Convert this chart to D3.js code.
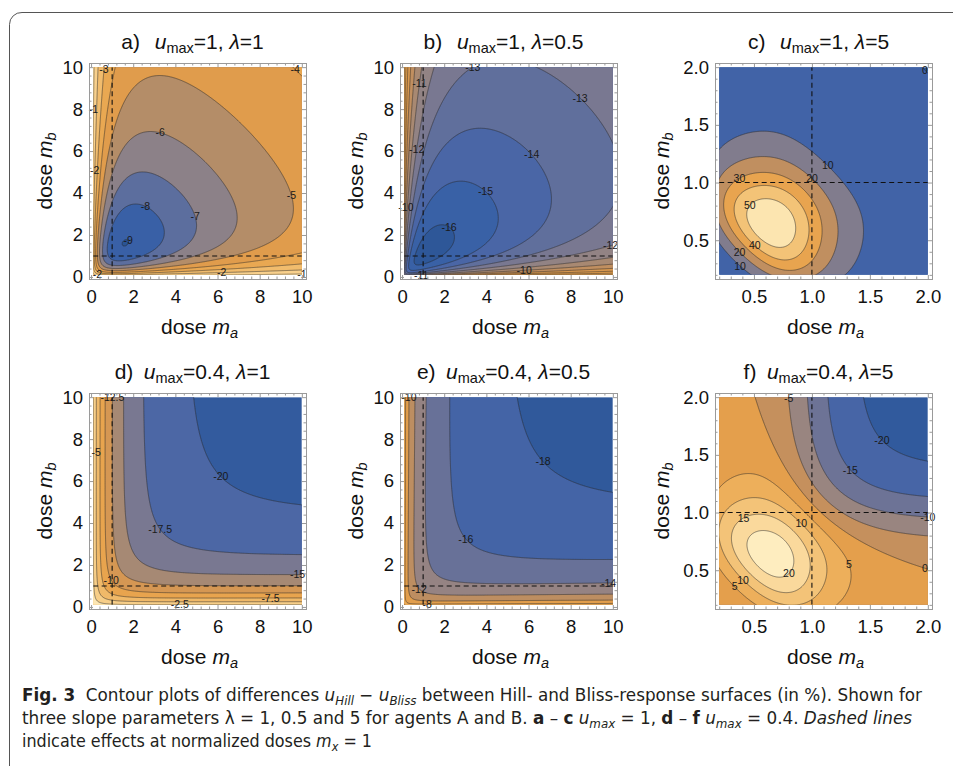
<!DOCTYPE html>
<html>
<head>
<meta charset="utf-8">
<script src="https://cdn.jsdelivr.net/npm/d3@7"></script>
<style>
  body { margin: 0; background: #fff; }
  svg text { white-space: pre; }
</style>
</head>
<body>
<svg id="chart" width="953" height="766"></svg>
<script>
// ---------------- data ----------------
const panelIds = ["a", "b", "c", "d", "e", "f"];
const uMaxValues = [1, 1, 1, 0.4, 0.4, 0.4];
const lambdaValues = [1, 0.5, 5, 1, 0.5, 5];
const uMaxLabels = ["1", "1", "1", "0.4", "0.4", "0.4"];
const lambdaLabels = ["1", "0.5", "5", "1", "0.5", "5"];
const doseRanges = [[0.1, 10], [0.1, 10], [0.2, 2], [0.1, 10], [0.1, 10], [0.2, 2]];
const contourLevels = [
  [-9, -8, -7, -6, -5, -4, -3, -2, -1],
  [-16, -15, -14, -13, -12, -11, -10, -9, -8, -7, -6],
  [0, 10, 20, 30, 40, 50],
  [-20, -17.5, -15, -12.5, -10, -7.5, -5, -2.5],
  [-18, -16, -14, -12, -10, -8, -6],
  [-20, -15, -10, -5, 0, 5, 10, 15, 20]
];
const tickLabelsWide = ["0", "2", "4", "6", "8", "10"];
const tickLabelsNarrow = ["0.5", "1.0", "1.5", "2.0"];
const dashedDose = 1;
// contour label hints: [level, dose ma, dose mb]
const labelHints = [
  [[-3, 0.8, 9.9], [-4, 9.7, 9.9], [-1, 0.25, 8], [-2, 0.3, 5.1], [-6, 3.3, 6.9], [-5, 9.5, 3.9],
   [-7, 5.0, 2.9], [-8, 2.6, 3.4], [-9, 1.75, 1.7], [-2, 6.2, 0.2], [-1, 10, 0.2], [-2, 0.35, 0.25]],
  [[-13, 3.4, 10], [-11, 0.76, 9.2], [-13, 8.5, 8.6], [-12, 0.66, 6.1], [-14, 6.1, 5.8], [-10, 0.3, 3.3],
   [-15, 3.9, 4.0], [-16, 2.2, 2.35], [-12, 9.9, 1.45], [-11, 0.8, 0.15], [-10, 5.8, 0.35]],
  [[0, 1.98, 1.98], [10, 1.14, 1.15], [20, 1.0, 1.03], [30, 0.37, 1.05], [50, 0.46, 0.81],
   [40, 0.5, 0.45], [20, 0.42, 0.44], [10, 0.35, 0.24]],
  [[-12.5, 1.0, 10], [-5, 0.28, 7.4], [-20, 6.25, 6.3], [-17.5, 3.3, 3.7], [-15, 9.8, 1.6],
   [-10, 0.75, 1.2], [-7.5, 8.5, 0.5], [-2.5, 4.2, 0.1]],
  [[-10, 0.43, 10], [-18, 6.7, 6.9], [-16, 3.1, 3.3], [-14, 9.8, 1.3], [-12, 0.85, 0.9], [-8, 1.2, 0.15]],
  [[-5, 0.8, 1.99], [-20, 1.6, 1.62], [-15, 1.33, 1.37], [-10, 2.0, 0.97], [15, 0.41, 0.96], [10, 0.91, 0.91],
   [5, 1.31, 0.55], [0, 1.98, 0.52], [20, 0.8, 0.47], [10, 0.42, 0.43], [5, 0.3, 0.32]]
];
const captionLines = [
  [["Fig. 3", "b"], ["  Contour plots of differences ", ""], ["u", "i"], ["Hill", "is"], [" \u2212 ", ""], ["u", "i"], ["Bliss", "is"],
   [" between Hill- and Bliss-response surfaces (in %). Shown for", ""]],
  [["three slope parameters \u03bb = 1, 0.5 and 5 for agents A and B. ", ""], ["a", "b"], [" \u2013 ", ""], ["c", "b"], [" ", ""],
   ["u", "i"], ["max", "is"], [" = 1, ", ""], ["d", "b"], [" \u2013 ", ""], ["f", "b"], [" ", ""], ["u", "i"], ["max", "is"],
   [" = 0.4. ", ""], ["Dashed lines", "i"]],
  [["indicate effects at normalized doses ", ""], ["m", "i"], ["x", "is"], [" = 1", ""]]
];

// ---------------- layout / style ----------------
const FONT = "'Liberation Sans', Arial, Helvetica, sans-serif";
const CAPFONT = "'Liberation Sans Narrow', 'DejaVu Sans Condensed', 'Open Sans', sans-serif";
const frameLefts = [89, 400, 715, 89, 400, 715];
const frameTops = [63, 63, 63, 393, 393, 393];
const FW = 217, FH = 216;
const tickColor = "#9a9a9a";

const colorStops = [0, .06, .12, .17, .22, .27, .33, .38, .44, .5, .58, .66, .74, .82, .9, 1];
const colorValues = ["#2a5494", "#3a61a7", "#4a66a6", "#5d6e9e", "#6d7396", "#8a8089", "#9a8580", "#b08c6a",
  "#c6905c", "#e09c4c", "#e7a24c", "#edb05c", "#f2bf72", "#f7cd86", "#fbe0a8", "#fff5cc"];
const colorRamp = d3.scaleLinear().domain(colorStops).range(colorValues).interpolate(d3.interpolateRgb).clamp(true);

// model: difference of Hill and Bliss response surfaces (in %)
function surfaceDiff(ma, mb, umax, lam) {
  const h = m => Math.pow(m, lam) / (1 + Math.pow(m, lam));
  const uHill = umax * h(ma + mb);
  const uA = umax * h(ma), uB = umax * h(mb);
  const uBliss = uA + uB - uA * uB;
  return 100 * (uHill - uBliss);
}

const svg = d3.select("#chart");
const defs = svg.append("defs");

// outer border
svg.append("path")
  .attr("d", "M953,12.5 H22 A12,12 0 0 0 9.5,24.5 V766")
  .attr("fill", "none").attr("stroke", "#555").attr("stroke-width", 1);

panelIds.forEach((id, k) => {
  const [lo, hi] = doseRanges[k];
  const pad = 0.02 * (hi - lo);
  const fx = frameLefts[k], fy = frameTops[k];
  const x = d3.scaleLinear().domain([lo - pad, hi + pad]).range([fx, fx + FW]);
  const y = d3.scaleLinear().domain([lo - pad, hi + pad]).range([fy + FH, fy]);

  // grid
  const N = 300, EXT = 2, M = N + 2 * EXT;
  const step = (hi - lo) / (N - 1);
  const values = new Float64Array(M * M);
  let zmin = Infinity, zmax = -Infinity;
  for (let j = 0; j < M; j++) {
    const mb = lo + (j - EXT) * step;
    for (let i = 0; i < M; i++) {
      const ma = lo + (i - EXT) * step;
      const v = surfaceDiff(ma, mb, uMaxValues[k], lambdaValues[k]);
      values[j * M + i] = v;
      if (i >= EXT && i < M - EXT && j >= EXT && j < M - EXT) {
        if (v < zmin) zmin = v;
        if (v > zmax) zmax = v;
      }
    }
  }
  const levels = contourLevels[k];
  const contours = d3.contours().size([M, M]).thresholds(levels)(values);
  const cLo = Math.min(0, zmin), cHi = Math.max(0, zmax);
  const clampZ = v => Math.max(zmin, Math.min(zmax, v));
  const bandColor = i => {
    const a = i === 0 ? zmin : levels[i - 1];
    const b = i === levels.length ? zmax : levels[i];
    const mid = (clampZ(a) + clampZ(b)) / 2;
    return colorRamp((mid - cLo) / (cHi - cLo));
  };
  const gToMa = g => lo + (g - 0.5 - EXT) * step;
  const proj = d3.geoTransform({
    point(gx, gy) { this.stream.point(x(gToMa(gx)), y(gToMa(gy))); }
  });
  const path = d3.geoPath(proj);

  defs.append("clipPath").attr("id", "clip-" + id)
    .append("rect").attr("x", x(lo)).attr("y", y(hi))
    .attr("width", x(hi) - x(lo)).attr("height", y(lo) - y(hi));

  const g = svg.append("g").attr("clip-path", `url(#clip-${id})`);
  g.append("rect").attr("x", x(lo)).attr("y", y(hi))
    .attr("width", x(hi) - x(lo)).attr("height", y(lo) - y(hi))
    .attr("fill", bandColor(0));
  g.selectAll("path.fill").data(contours).join("path")
    .attr("class", "fill")
    .attr("d", path)
    .attr("fill", (d, i) => bandColor(i + 1));
  g.selectAll("path.line").data(contours).join("path")
    .attr("class", "line")
    .attr("d", path)
    .attr("fill", "none")
    .attr("stroke", "#2a2a2a").attr("stroke-opacity", 0.65).attr("stroke-width", 0.8);

  // dashed reference lines at m = 1
  g.append("line").attr("x1", x(dashedDose)).attr("x2", x(dashedDose)).attr("y1", y(lo)).attr("y2", y(hi))
    .attr("stroke", "#111").attr("stroke-width", 1.1).attr("stroke-dasharray", "5,3.5");
  g.append("line").attr("x1", x(lo)).attr("x2", x(hi)).attr("y1", y(dashedDose)).attr("y2", y(dashedDose))
    .attr("stroke", "#111").attr("stroke-width", 1.1).attr("stroke-dasharray", "5,3.5");

  // contour labels snapped to their contour
  labelHints[k].forEach(([lev, hx, hy]) => {
    const c = contours.find(c => c.value === lev);
    if (!c) return;
    const hpx = x(hx), hpy = y(hy);
    let best = null, bd = Infinity;
    c.coordinates.forEach(poly => poly.forEach(ring => ring.forEach(([gx, gy]) => {
      const ma = gToMa(gx), mb = gToMa(gy);
      if (ma < lo || ma > hi || mb < lo || mb > hi) return;
      const px = x(ma), py = y(mb);
      const d = (px - hpx) ** 2 + (py - hpy) ** 2;
      if (d < bd) { bd = d; best = [px, py]; }
    })));
    if (!best) return;
    svg.append("text").attr("x", best[0]).attr("y", best[1]).attr("dy", "0.35em")
      .attr("text-anchor", "middle").attr("font-family", FONT).attr("font-size", 10.5)
      .attr("fill", "#1a1a1a").text(String(lev));
  });

  // frame + ticks
  const majorLabels = hi > 5 ? tickLabelsWide : tickLabelsNarrow;
  const majors = majorLabels.map(Number);
  const minorStep = hi > 5 ? 0.4 : 0.1;
  const minors = d3.range(Math.ceil((lo - pad) / minorStep - 1e-9), Math.floor((hi + pad) / minorStep + 1e-9) + 1)
    .map(i => +(i * minorStep).toFixed(4))
    .filter(v => !majors.some(m => Math.abs(m - v) < 1e-6));

  svg.append("rect").attr("x", fx + 0.5).attr("y", fy + 0.5).attr("width", FW).attr("height", FH)
    .attr("fill", "none").attr("stroke", tickColor).attr("stroke-width", 1);

  const styleAxis = sel => {
    sel.select(".domain").remove();
    sel.selectAll(".tick line").attr("stroke", tickColor);
    sel.selectAll(".tick text").attr("font-family", FONT).attr("font-size", 18.5).attr("fill", "#111");
  };
  svg.append("g").attr("transform", `translate(0,${fy + FH})`)
    .call(d3.axisBottom(x).tickValues(majors).tickFormat((d, i) => majorLabels[i]).tickSize(-4).tickPadding(11))
    .call(styleAxis);
  svg.append("g").attr("transform", `translate(${fx},0)`)
    .call(d3.axisLeft(y).tickValues(majors).tickFormat((d, i) => majorLabels[i]).tickSize(-4).tickPadding(6))
    .call(styleAxis);
  svg.append("g").attr("transform", `translate(0,${fy})`)
    .call(d3.axisTop(x).tickValues(majors).tickFormat("").tickSize(-4)).call(styleAxis);
  svg.append("g").attr("transform", `translate(${fx + FW},0)`)
    .call(d3.axisRight(y).tickValues(majors).tickFormat("").tickSize(-4)).call(styleAxis);
  [[d3.axisBottom(x), `translate(0,${fy + FH})`], [d3.axisTop(x), `translate(0,${fy})`],
   [d3.axisLeft(y), `translate(${fx},0)`], [d3.axisRight(y), `translate(${fx + FW},0)`]]
    .forEach(([ax, tr]) => {
      svg.append("g").attr("transform", tr)
        .call(ax.tickValues(minors).tickFormat("").tickSize(-2.5)).call(styleAxis);
    });

  // title
  const title = svg.append("text").attr("x", fx + FW / 2 - 5).attr("y", fy - 14)
    .attr("text-anchor", "middle").attr("font-family", FONT).attr("font-size", 21).attr("fill", "#111");
  title.append("tspan").text(id + ")" + (k < 3 ? "\u2002\u2009" : "\u2002"));
  title.append("tspan").attr("font-style", "italic").text("u");
  title.append("tspan").attr("font-size", 14.5).attr("dy", 4).text("max");
  title.append("tspan").attr("dy", -4).text("=" + uMaxLabels[k] + ", ");
  title.append("tspan").attr("font-style", "italic").text("\u03bb");
  title.append("tspan").text("=" + lambdaLabels[k]);

  // axis labels
  const xl = svg.append("text").attr("x", fx + FW / 2 + 2).attr("y", fy + FH + 55)
    .attr("text-anchor", "middle").attr("font-family", FONT).attr("font-size", 21).attr("fill", "#111");
  xl.append("tspan").text("dose ");
  xl.append("tspan").attr("font-style", "italic").text("m");
  xl.append("tspan").attr("font-style", "italic").attr("font-size", 14.5).attr("dy", 4).text("a");

  const yOff = hi > 5 ? 37 : 46;
  const yl = svg.append("text")
    .attr("transform", `translate(${fx - yOff},${fy + FH / 2}) rotate(-90)`)
    .attr("text-anchor", "middle").attr("font-family", FONT).attr("font-size", 21).attr("fill", "#111");
  yl.append("tspan").text("dose ");
  yl.append("tspan").attr("font-style", "italic").text("m");
  yl.append("tspan").attr("font-style", "italic").attr("font-size", 14.5).attr("dy", 4).text("b");
});

// caption
const capLengths = [900, 890, 350];
const capBaselines = [701, 724, 747];
captionLines.forEach((segs, li) => {
  const t = svg.append("text").attr("x", 22).attr("y", capBaselines[li])
    .attr("font-family", CAPFONT).attr("font-size", 17).attr("fill", "#231f20")
    .attr("textLength", capLengths[li]).attr("lengthAdjust", "spacingAndGlyphs");
  let shifted = 0;
  segs.forEach(([txt, st]) => {
    const sp = t.append("tspan").text(txt);
    if (st === "b") sp.attr("font-weight", "bold");
    if (st === "i" || st === "is") sp.attr("font-style", "italic");
    if (st === "is") { sp.attr("font-size", 12).attr("dy", 4 - shifted); shifted = 4; }
    else if (shifted) { sp.attr("dy", -shifted); shifted = 0; }
  });
});
</script>
</body>
</html>
